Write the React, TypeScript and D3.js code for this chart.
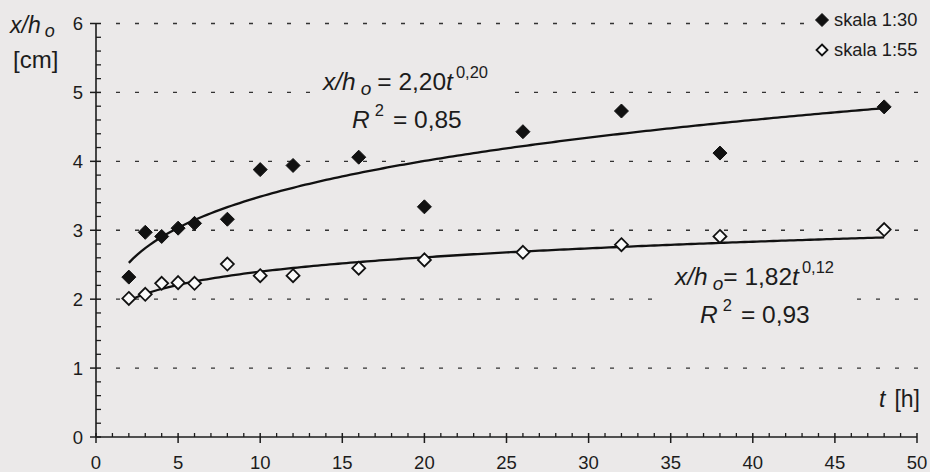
import React from "react";
import * as d3 from "d3";

// measured points, t in hours
const tScale30 = [2, 3, 4, 5, 6, 8, 10, 12, 16, 20, 26, 32, 38, 48];
const vScale30 = [2.32, 2.97, 2.91, 3.03, 3.1, 3.16, 3.88, 3.94, 4.06, 3.34, 4.43, 4.73, 4.12, 4.79];
const tScale55 = [2, 3, 4, 5, 6, 8, 10, 12, 16, 20, 26, 32, 38, 48];
const vScale55 = [2.01, 2.07, 2.23, 2.24, 2.23, 2.51, 2.34, 2.34, 2.45, 2.57, 2.68, 2.79, 2.91, 3.01];

// power trendlines  y = a * t^b
const fit30 = { a: 2.2, b: 0.2, r2: "0,85" };
const fit55 = { a: 1.82, b: 0.12, r2: "0,93" };

const xTicks = [0, 5, 10, 15, 20, 25, 30, 35, 40, 45, 50];
const yTicks = [0, 1, 2, 3, 4, 5, 6];
const legendLabels = ["skala 1:30", "skala 1:55"];

const W = 930;
const H = 472;
const BG = "#ebe9e9";
const INK = "#1c1c1c";
const FONT = "Arial, 'Liberation Sans', sans-serif";
const EQ = 24.5;

export default function App() {
  const x = d3.scaleLinear().domain([0, 50]).range([96, 917]);
  const y = d3.scaleLinear().domain([0, 6]).range([437, 23.5]);

  const diamond = (cx: number, cy: number, r: number) =>
    `M${cx},${cy - r}L${cx + r},${cy}L${cx},${cy + r}L${cx - r},${cy}Z`;

  const curve = (f: { a: number; b: number }, t0: number, t1: number) => {
    const pts = d3.range(t0, t1 + 0.001, 0.25).map((t) => [t, f.a * Math.pow(t, f.b)] as [number, number]);
    return d3.line<[number, number]>().x((d) => x(d[0])).y((d) => y(d[1]))(pts) || "";
  };

  const minorY = d3.range(0, 6.001, 0.2).filter((v) => Math.abs(v - Math.round(v)) > 0.01);
  const minorX = d3.range(0, 51, 1).filter((v) => v % 5 !== 0);

  const t0 = d3.min(tScale30) as number;
  const t1 = d3.max(tScale30) as number;

  const exp = (b: number) => b.toFixed(2).replace(".", ",");

  return (
    <svg width={W} height={H} style={{ position: "absolute", left: 0, top: 0, background: BG }} fontFamily={FONT}>
      <rect width={W} height={H} fill={BG} />
      {/* dotted grid */}
      {yTicks.slice(1).map((v) => (
        <line key={v} x1={116} x2={928} y1={y(v)} y2={y(v)} stroke="#333" strokeWidth={1.4} strokeDasharray="4 15" />
      ))}

      {/* trendlines */}
      <path d={curve(fit30, t0, t1)} fill="none" stroke="#111" strokeWidth={2.3} />
      <path d={curve(fit55, t0, t1)} fill="none" stroke="#111" strokeWidth={2.3} />

      {/* axes */}
      <line x1={x(0)} x2={x(0)} y1={y(0)} y2={y(6)} stroke={INK} strokeWidth={1.6} />
      <line x1={x(0)} x2={x(50)} y1={y(0)} y2={y(0)} stroke={INK} strokeWidth={1.6} />
      {yTicks.map((v) => (
        <g key={v}>
          <line x1={x(0) - 6} x2={x(0) + 5} y1={y(v)} y2={y(v)} stroke={INK} strokeWidth={1.5} />
          <text x={83} y={y(v) + 6.5} textAnchor="end" fontSize={18.5} fill={INK}>{v}</text>
        </g>
      ))}
      {minorY.map((v) => (
        <line key={v} x1={x(0)} x2={x(0) + 5} y1={y(v)} y2={y(v)} stroke={INK} strokeWidth={1.3} />
      ))}
      {xTicks.map((v) => (
        <g key={v}>
          <line x1={x(v)} x2={x(v)} y1={y(0) - 4} y2={y(0) + 6} stroke={INK} strokeWidth={1.5} />
          <text x={x(v)} y={469} textAnchor="middle" fontSize={18.5} fill={INK}>{v}</text>
        </g>
      ))}
      {minorX.map((v) => (
        <line key={v} x1={x(v)} x2={x(v)} y1={y(0) - 4} y2={y(0)} stroke={INK} strokeWidth={1.3} />
      ))}

      {/* markers */}
      {tScale30.map((t, i) => (
        <path key={"a" + i} d={diamond(x(t), y(vScale30[i]), 7)} fill="#111" stroke="#111" strokeWidth={1} />
      ))}
      {tScale55.map((t, i) => (
        <path key={"b" + i} d={diamond(x(t), y(vScale55[i]), 6.5)} fill="#fafafa" stroke="#111" strokeWidth={1.8} />
      ))}

      {/* axis titles */}
      <text x={10} y={33} fontSize={23} fill={INK}>
        <tspan fontStyle="italic">x/h</tspan>
        <tspan fontStyle="italic" fontSize={18} dx={4} dy={4}>o</tspan>
      </text>
      <text x={13} y={68} fontSize={24} fill={INK}>[cm]</text>
      <text x={879} y={407} fontSize={23} fill={INK}>
        <tspan fontStyle="italic">t</tspan>
        <tspan dx={9}>[h]</tspan>
      </text>

      {/* equation boxes */}
      <rect x={313} y={60} width={194} height={74} fill={BG} />
      <text x={323} y={90} fontSize={EQ} fill={INK}>
        <tspan fontStyle="italic">x/h</tspan>
        <tspan fontStyle="italic" fontSize={19} dx={5} dy={5}>o</tspan>
        <tspan dx={6} dy={-5}>= 2,20</tspan>
        <tspan fontStyle="italic">t</tspan>
        <tspan fontSize={16.5} dx={3} dy={-12}>{exp(fit30.b)}</tspan>
      </text>
      <text x={352} y={128} fontSize={EQ} fill={INK}>
        <tspan fontStyle="italic">R</tspan>
        <tspan fontSize={16.5} dx={5} dy={-12}>2</tspan>
        <tspan dx={9} dy={12}>{`= ${fit30.r2}`}</tspan>
      </text>

      <rect x={663} y={256} width={190} height={74} fill={BG} />
      <text x={675} y={285} fontSize={EQ} fill={INK}>
        <tspan fontStyle="italic">x/h</tspan>
        <tspan fontStyle="italic" fontSize={19} dx={5} dy={5}>o</tspan>
        <tspan dy={-5}>= 1,82</tspan>
        <tspan fontStyle="italic">t</tspan>
        <tspan fontSize={16.5} dx={3} dy={-12}>{exp(fit55.b)}</tspan>
      </text>
      <text x={700} y={323} fontSize={EQ} fill={INK}>
        <tspan fontStyle="italic">R</tspan>
        <tspan fontSize={16.5} dx={5} dy={-12}>2</tspan>
        <tspan dx={9} dy={12}>{`= ${fit55.r2}`}</tspan>
      </text>

      {/* legend */}
      <rect x={805} y={5} width={125} height={60} fill={BG} />
      <path d={diamond(822, 20, 6.5)} fill="#111" stroke="#111" strokeWidth={1} />
      <text x={834} y={26} fontSize={18.3} fill={INK}>{legendLabels[0]}</text>
      <path d={diamond(822, 50, 5.5)} fill="#fafafa" stroke="#111" strokeWidth={1.8} />
      <text x={834} y={56} fontSize={18.3} fill={INK}>{legendLabels[1]}</text>
    </svg>
  );
}
